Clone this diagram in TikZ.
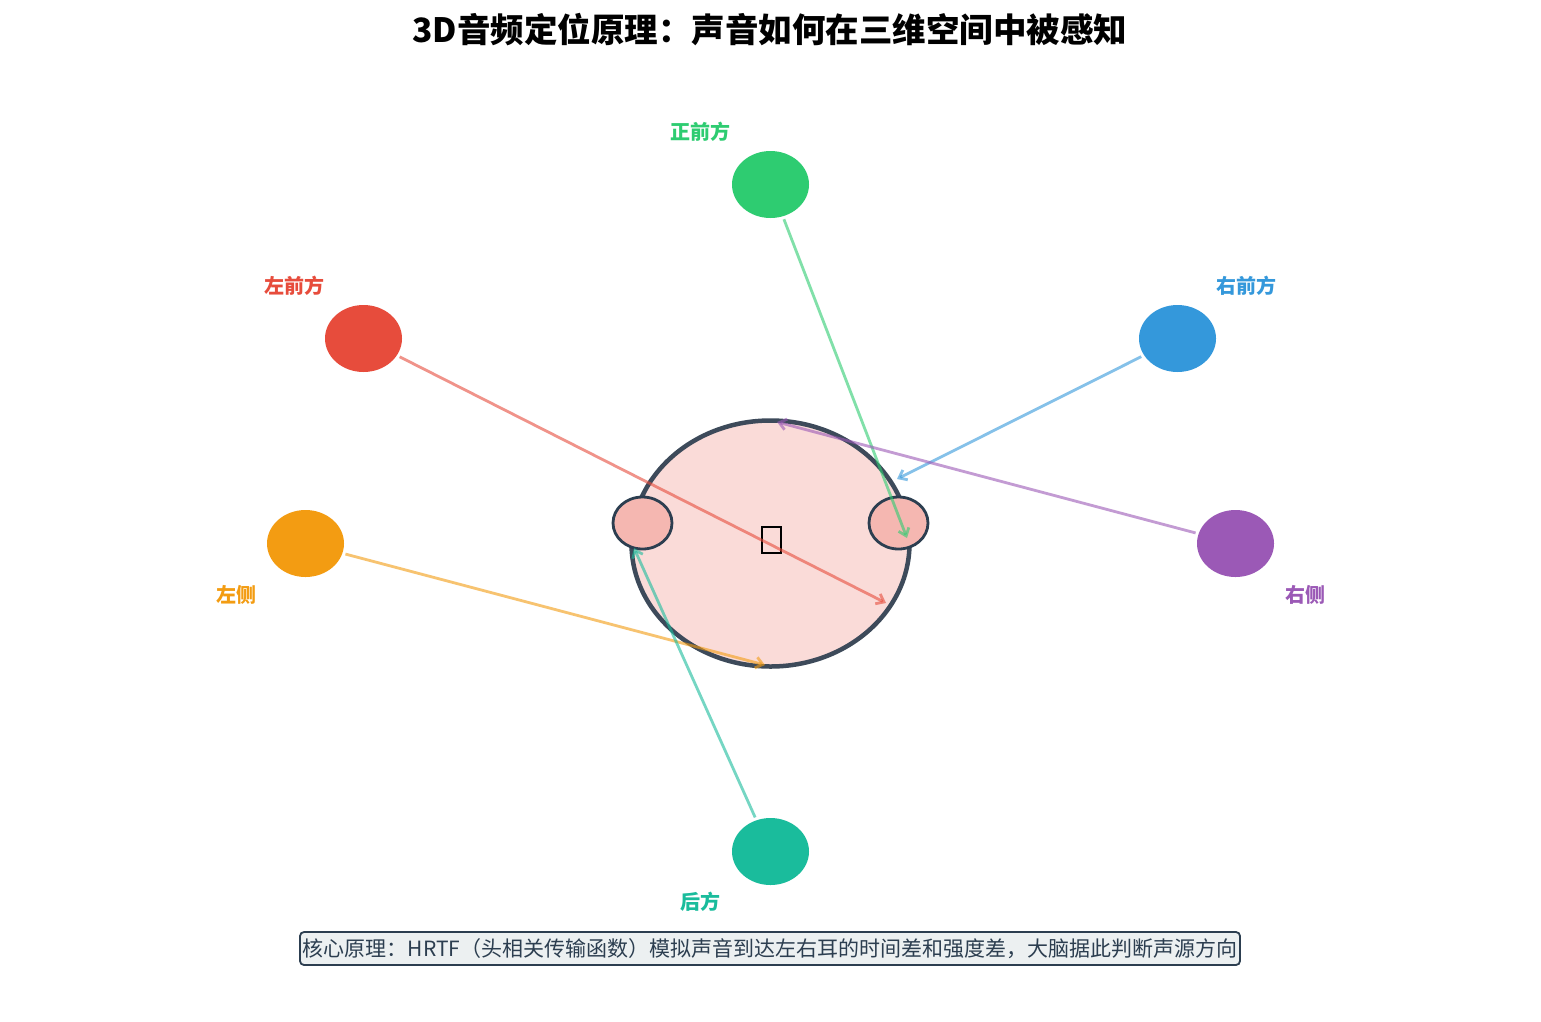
\documentclass[tikz,border=0pt]{standalone}
\usepackage{fontspec}
\setmainfont{Noto Sans CJK SC}
\usetikzlibrary{shapes.geometric,arrows.meta}
\definecolor{cgreen}{HTML}{2ECC71}
\definecolor{cred}{HTML}{E74C3C}
\definecolor{cblue}{HTML}{3498DB}
\definecolor{corange}{HTML}{F39C12}
\definecolor{cpurple}{HTML}{9B59B6}
\definecolor{cteal}{HTML}{1ABC9C}
\definecolor{headfill}{HTML}{FADBD8}
\definecolor{earfill}{HTML}{F5B7B1}
\definecolor{dark}{HTML}{3D4A5A}
\definecolor{darker}{HTML}{2C3E50}
\definecolor{notefill}{HTML}{ECF0F1}
\begin{document}
\begin{tikzpicture}[x=1pt,y=-1pt,
  src/.style={ellipse,minimum width=77pt,minimum height=67pt,inner sep=0pt,fill=#1},
  lbl/.style={text=#1,font=\fontsize{20}{20}\selectfont\bfseries,inner sep=0pt},
  arr/.style={draw=#1,draw opacity=0.6,line width=2.8pt,-{Straight Barb[length=7pt,width=11pt]},shorten <=3pt},
  ear/.style={ellipse,minimum width=59pt,minimum height=52pt,inner sep=0pt,fill=earfill,draw=darker,line width=2.8pt}]
\fill[white] (0,0) rectangle (1541,1021);
\useasboundingbox (0,0) rectangle (1541,1021);
% title
\node[font=\fontsize{33.5}{33.5}\selectfont\bfseries,inner sep=0pt] (title) at (770,30) {3D音频定位原理：声音如何在三维空间中被感知};
% head
\node[ellipse,minimum width=278pt,minimum height=246pt,inner sep=0pt,fill=headfill,draw=dark,line width=4.5pt] (head) at (770.5,543.5) {};
\node[ear] (lear) at (642.5,523) {};
\node[ear] (rear) at (898.5,523) {};
\node[draw=black,line width=2.8pt,minimum width=19pt,minimum height=26pt,inner sep=0pt] (icon) at (771.5,540) {};
% sources
\node[src=cgreen] (front) at (770.5,184.5) {};
\node[src=cred] (lfront) at (363.5,338.5) {};
\node[src=cblue] (rfront) at (1177.5,338.5) {};
\node[src=corange] (left) at (305.5,543.5) {};
\node[src=cpurple] (right) at (1235.5,543.5) {};
\node[src=cteal] (back) at (770.5,851.5) {};
% labels
\node[lbl=cgreen] (lfrontlbl) at (700,132) {正前方};
\node[lbl=cred] (llfront) at (294,286) {左前方};
\node[lbl=cblue] (lrfront) at (1246,286) {右前方};
\node[lbl=corange] (lleft) at (236,595) {左侧};
\node[lbl=cpurple] (lright) at (1305,595) {右侧};
\node[lbl=cteal] (lback) at (700,902) {后方};
% arrow end points
\coordinate (eFront) at (907,538);
\coordinate (eLFront) at (886,603);
\coordinate (eRFront) at (897,479);
\coordinate (eLeft) at (765,665);
\coordinate (eRight) at (777,422);
\coordinate (eBack) at (634,548);
\draw[arr=cgreen] (front) -- (eFront);
\draw[arr=cred] (lfront) -- (eLFront);
\draw[arr=cblue] (rfront) -- (eRFront);
\draw[arr=corange] (left) -- (eLeft);
\draw[arr=cpurple] (right) -- (eRight);
\draw[arr=cteal] (back) -- (eBack);
% note
\node[draw=darker,line width=1.8pt,rounded corners=4pt,fill=notefill,minimum width=940pt,minimum height=33pt,inner sep=0pt,text=darker,font=\fontsize{21}{21}\selectfont] (note) at (770,948.5) {核心原理：HRTF（头相关传输函数）模拟声音到达左右耳的时间差和强度差，大脑据此判断声源方向};
\end{tikzpicture}
\end{document}
